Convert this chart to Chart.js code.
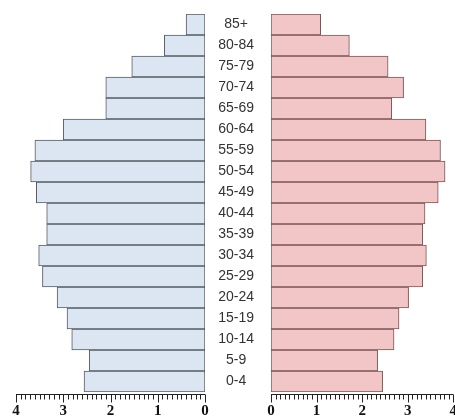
<!DOCTYPE html>
<html>
<head>
<meta charset="utf-8">
<script src="https://cdn.jsdelivr.net/npm/chart.js@4"></script>
<style>
  html, body { margin: 0; padding: 0; background: #fff; overflow: hidden; }
  body { width: 455px; height: 419px; position: relative; }
  .box { position: absolute; top: 0; height: 419px; }
  #leftBox { left: 0; width: 211px; }
  #rightBox { left: 205px; width: 262px; }
</style>
</head>
<body>
<div class="box" id="leftBox"><canvas id="maleChart"></canvas></div>
<div class="box" id="rightBox"><canvas id="femaleChart"></canvas></div>
<script>
// Вікові групи (знизу вгору)
const ageGroups = ['0-4', '5-9', '10-14', '15-19', '20-24', '25-29', '30-34', '35-39', '40-44',
    '45-49', '50-54', '55-59', '60-64', '65-69', '70-74', '75-79', '80-84', '85+'];

// Частки населення, %
const maleValues = [2.56, 2.45, 2.82, 2.92, 3.13, 3.44, 3.52, 3.35, 3.35,
    3.57, 3.69, 3.60, 3.00, 2.10, 2.10, 1.55, 0.86, 0.40];
const femaleValues = [2.45, 2.34, 2.70, 2.81, 3.02, 3.33, 3.41, 3.33, 3.38,
    3.67, 3.82, 3.72, 3.40, 2.65, 2.91, 2.57, 1.72, 1.09];

// Підписи осі x
const axisTicks = [0, 1, 2, 3, 4];
const axisMax = 4;

// Лінійка з дрібними поділками під барами
const rulerPlugin = {
    id: 'ruler',
    afterDraw(chart) {
        const x = chart.scales.x;
        const ctx = chart.ctx;
        const y0 = chart.chartArea.bottom + 2.5;
        ctx.save();
        ctx.strokeStyle = '#222';
        ctx.lineWidth = 1;
        ctx.beginPath();
        ctx.moveTo(x.getPixelForValue(0), y0);
        ctx.lineTo(x.getPixelForValue(axisMax), y0);
        for (let i = 0; i <= axisMax * 10; i++) {
            const px = Math.round(x.getPixelForValue(i / 10)) + 0.5;
            const len = i % 10 === 0 ? 8 : 5;
            ctx.moveTo(px, y0);
            ctx.lineTo(px, y0 + len);
        }
        ctx.stroke();
        ctx.restore();
    }
};

function xScale(reverse) {
    return {
        type: 'linear',
        min: 0,
        max: axisMax,
        reverse: reverse,
        afterBuildTicks: s => { s.ticks = axisTicks.map(v => ({ value: v })); },
        afterFit: s => { s.height = 27; },
        grid: { display: false, drawTicks: false },
        border: { display: false },
        ticks: {
            padding: 10,
            color: '#111',
            font: { family: '"Liberation Serif", "DejaVu Serif", serif', size: 15, weight: 'bold' }
        }
    };
}

function pyramidChart(id, values, fill, stroke, reverse, showAges, padding) {
    const yScale = showAges ? {
        reverse: true,
        afterFit: s => { s.width = 66; s.paddingTop = 0; s.paddingBottom = 0; },
        grid: { display: false, drawTicks: false },
        border: { display: false },
        ticks: {
            crossAlign: 'center',
            padding: 17,
            color: '#333',
            font: { family: '"Liberation Sans", Arial, sans-serif', size: 14 }
        }
    } : { display: false, reverse: true };

    return new Chart(document.getElementById(id), {
        type: 'bar',
        data: {
            labels: ageGroups,
            datasets: [{
                data: values,
                backgroundColor: fill,
                borderColor: stroke,
                borderWidth: 1,
                borderSkipped: false,
                barPercentage: 1,
                categoryPercentage: 1
            }]
        },
        options: {
            indexAxis: 'y',
            responsive: true,
            maintainAspectRatio: false,
            animation: false,
            layout: { padding: padding },
            plugins: { legend: { display: false }, tooltip: { enabled: false } },
            scales: { x: xScale(reverse), y: yScale }
        },
        plugins: [rulerPlugin]
    });
}

pyramidChart('maleChart', maleValues, '#dce6f2', '#555b63', true, false,
    { left: 16, right: 6, top: 14, bottom: 0 });
pyramidChart('femaleChart', femaleValues, '#f2c5c6', '#7a5456', false, true,
    { left: 0, right: 8, top: 14, bottom: 0 });
</script>
</body>
</html>
